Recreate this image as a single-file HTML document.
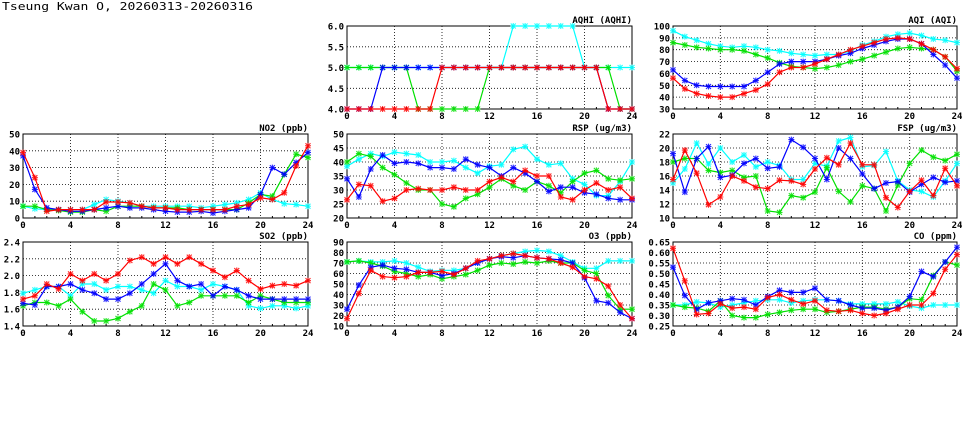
<!DOCTYPE html>
<html><head><meta charset="utf-8"><style>
html,body{margin:0;padding:0;background:#fff;width:975px;height:447px;overflow:hidden}
svg text{font-family:"DejaVu Sans Mono","Liberation Mono",monospace;font-weight:bold;fill:#000}
</style></head><body>
<svg id="s" width="975" height="447" xmlns="http://www.w3.org/2000/svg">
<text x="2" y="10" font-size="11" textLength="251" lengthAdjust="spacingAndGlyphs" style="font-weight:normal">Tseung Kwan O, 20260313-20260316</text>
</svg>
<script>
const C={c:"#00ffff",g:"#00e000",b:"#0000ff",r:"#ff0000"};
const P=[
{t:"AQHI (AQHI)",x0:347,x1:632,y0:26,y1:109,mn:4,mx:6,st:0.5,dp:1,d:{
c:[5,5,5,5,5,5,5,5,5,5,5,5,5,5,6,6,6,6,6,6,5,5,5,5,5],
g:[5,5,5,5,5,5,4,4,4,4,4,4,5,5,5,5,5,5,5,5,5,5,5,4,4],
b:[4,4,4,5,5,5,5,5,5,5,5,5,5,5,5,5,5,5,5,5,5,5,4,4,4],
r:[4,4,4,4,4,4,4,4,5,5,5,5,5,5,5,5,5,5,5,5,5,5,4,4,4]}},
{t:"AQI (AQI)",x0:673,x1:957,y0:26,y1:109,mn:30,mx:100,st:10,dp:0,d:{
c:[96,91,88,85,83,82,83,82,80,79,77,76,75,76,76,79,84,87,91,93,94,92,89,88,86],
g:[86,84,82,81,80,80,79,76,73,69,66,65,64,65,67,70,72,75,78,81,82,81,80,74,62],
b:[63,54,50,49,49,49,49,54,61,68,70,70,70,72,75,77,81,84,87,89,89,85,76,67,56],
r:[56,47,43,41,40,40,43,46,51,61,65,65,68,72,76,80,83,86,89,90,89,85,80,74,64]}},
{t:"NO2 (ppb)",x0:23,x1:308,y0:134,y1:218,mn:0,mx:50,st:10,dp:0,d:{
c:[7,5.5,5,5,5,5,8,11,10,9,7,7,7,7,7,6,7,8,9,11,15,11,8.5,8,7],
g:[7,7,5,4.5,3.5,3.5,5,4,7,7,7,6,6,6,5,5,5,5,5,9,14,13,26,38,36],
b:[37,17,6,5,4,4,5,6,7,6,6,5,4,3.5,3.5,4,3,4,5,6,14,30,26,33,39],
r:[39,24,4,5,5,5,5,9.5,9.5,9,7,6,6,5,5,5,5,5,7,8,12,11,15,31,43]}},
{t:"RSP (ug/m3)",x0:347,x1:632,y0:134,y1:218,mn:20,mx:50,st:5,dp:0,d:{
c:[38.5,41,43,42,43.5,43,42.5,40,40,40.5,38,36,38.5,39,44.5,45.5,41,39,39.5,34,32,28,28,33,40],
g:[40,43,42,38,35.5,32.5,30,30,25,24,27,28.5,31,34,31.5,30,33,31.5,29,33,36,37,34,33.5,34],
b:[34,27.5,37.5,42.5,39.5,40,39.5,38,38,37.5,41,39,38,35,38,36,33,29.5,31,31,29,28.5,27,26.5,26.5],
r:[26.5,32,31.5,26,27,30,30.5,30,30,31,30,30,33,34.5,33,37,35,35,27.5,26.5,30,32.5,30,31,27]}},
{t:"FSP (ug/m3)",x0:673,x1:957,y0:134,y1:218,mn:10,mx:22,st:2,dp:0,d:{
c:[15,17,20.7,17.7,20,18,19,17.3,18,17.5,15.5,15.5,17.8,17.4,21,21.5,17.3,17.5,19.5,15.3,14,13.8,13,15.3,17.8],
g:[18,18.5,18.5,16.8,16.5,16.8,15.8,16,11,10.8,13.2,12.9,13.7,17.2,13.8,12.3,14.6,14.2,11,14.7,17.8,19.7,18.7,18.2,19.1],
b:[19.2,13.7,18.5,20.2,15.8,16.1,17.8,18.5,17.1,17.3,21.2,20.1,18.5,15.5,20,18.5,16.3,14.2,15,15.2,13.7,14.8,15.8,15.1,15.3],
r:[15.5,19.7,16.4,11.9,13,16,15.3,14.4,14.2,15.4,15.3,14.8,17,18.6,17.6,20.7,17.6,17.6,12.9,11.5,13.8,15.4,13.2,17.1,14.6]}},
{t:"SO2 (ppb)",x0:23,x1:308,y0:242,y1:326,mn:1.4,mx:2.4,st:0.2,dp:1,d:{
c:[1.79,1.83,1.87,1.87,1.76,1.90,1.90,1.83,1.87,1.87,1.83,1.79,1.94,1.87,1.87,1.83,1.90,1.87,1.83,1.64,1.61,1.64,1.64,1.61,1.64],
g:[1.64,1.68,1.68,1.64,1.72,1.57,1.46,1.46,1.49,1.57,1.64,1.90,1.83,1.64,1.68,1.76,1.76,1.76,1.76,1.68,1.76,1.72,1.68,1.68,1.68],
b:[1.67,1.65,1.87,1.87,1.90,1.83,1.79,1.72,1.72,1.79,1.90,2.02,2.14,1.94,1.87,1.90,1.76,1.87,1.83,1.76,1.72,1.72,1.72,1.72,1.72],
r:[1.72,1.76,1.90,1.84,2.02,1.94,2.02,1.94,2.02,2.18,2.22,2.14,2.22,2.14,2.22,2.14,2.06,1.98,2.06,1.94,1.84,1.88,1.90,1.88,1.94]}},
{t:"O3 (ppb)",x0:347,x1:632,y0:242,y1:326,mn:10,mx:90,st:10,dp:0,d:{
c:[71,72,71,71,72,70,66,62,63,63,65,70,74,77,79,81,82,81,77,71,65,65,72,72,72],
g:[71,72,70,67,62,60,57,59,55,57,59,63,68,70,69,71,70,72,70,70,63,60,39,26,26],
b:[26,49,66,68,65,64,61,61,58,60,65,70,74,76,75,77,75,74,73,70,56,34,32,23,17],
r:[17,41,63,57,56,57,61,61,62,59,65,72,74,77,79,77,75,74,70,66,57,55,48,30,17]}},
{t:"CO (ppm)",x0:673,x1:957,y0:242,y1:326,mn:0.25,mx:0.65,st:0.05,dp:2,d:{
c:[.35,.35,.365,.36,.34,.35,.36,.37,.375,.375,.36,.37,.375,.375,.37,.355,.355,.355,.355,.365,.345,.335,.35,.35,.35],
g:[.35,.34,.335,.32,.37,.30,.29,.29,.305,.315,.325,.33,.33,.315,.32,.33,.34,.34,.33,.34,.38,.375,.49,.555,.54],
b:[.53,.395,.33,.36,.37,.38,.375,.35,.39,.42,.41,.41,.43,.375,.37,.35,.335,.335,.325,.34,.39,.51,.485,.555,.625],
r:[.62,.465,.305,.31,.355,.335,.34,.33,.385,.40,.375,.355,.37,.325,.32,.325,.31,.30,.31,.33,.35,.35,.405,.52,.59]}}
];
let h="";
for(const p of P){
 const X=i=>p.x0+(p.x1-p.x0)*i/24, Y=v=>p.y1-(p.y1-p.y0)*(v-p.mn)/(p.mx-p.mn);
 const n=Math.round((p.mx-p.mn)/p.st);
 for(let k=0;k<=n;k++){const v=p.mn+k*p.st,y=Y(v).toFixed(1);
  if(k>0&&k<n)h+=`<line x1="${p.x0}" x2="${p.x1}" y1="${y}" y2="${y}" stroke="#000" stroke-width="0.8" stroke-dasharray="1,2"/>`;
  h+=`<text x="${p.x0-3}" y="${+y+3.5}" font-size="9" text-anchor="end">${v.toFixed(p.dp)}</text>`;}
 for(let i=0;i<=24;i++){const x=X(i).toFixed(1);
  if(i%4==0){if(i>0&&i<24)h+=`<line x1="${x}" x2="${x}" y1="${p.y0}" y2="${p.y1}" stroke="#000" stroke-width="0.8" stroke-dasharray="1,2"/>`;
   h+=`<text x="${x}" y="${p.y1+10}" font-size="9" text-anchor="middle">${i}</text>`;}
  else{h+=`<line x1="${x}" x2="${x}" y1="${p.y1}" y2="${p.y1-2}" stroke="#000"/>`;}}
 h+=`<rect x="${p.x0}" y="${p.y0}" width="${p.x1-p.x0}" height="${p.y1-p.y0}" fill="none" stroke="#000" stroke-width="1"/>`;
 h+=`<text x="${p.x1}" y="${p.y0-3}" font-size="9" text-anchor="end">${p.t}</text>`;
 for(const k of ["c","g","b","r"]){const a=p.d[k],col=C[k];
  const pts=a.map((v,i)=>X(i).toFixed(1)+","+Y(v).toFixed(1)).join(" ");
  h+=`<polyline points="${pts}" fill="none" stroke="${col}" stroke-width="1.2"/>`;
  let m="";a.forEach((v,i)=>{const x=X(i),y=Y(v);m+=`M${x-2.5},${y-2.5}L${x+2.5},${y+2.5}M${x-2.5},${y+2.5}L${x+2.5},${y-2.5}M${x-3},${y}L${x+3},${y}M${x},${y-3}L${x},${y+3}`;});
  h+=`<path d="${m}" stroke="${col}" stroke-width="1.1" fill="none" opacity="0.85"/>`;}
}
document.getElementById("s").insertAdjacentHTML("beforeend",h);
</script>
</body></html>
